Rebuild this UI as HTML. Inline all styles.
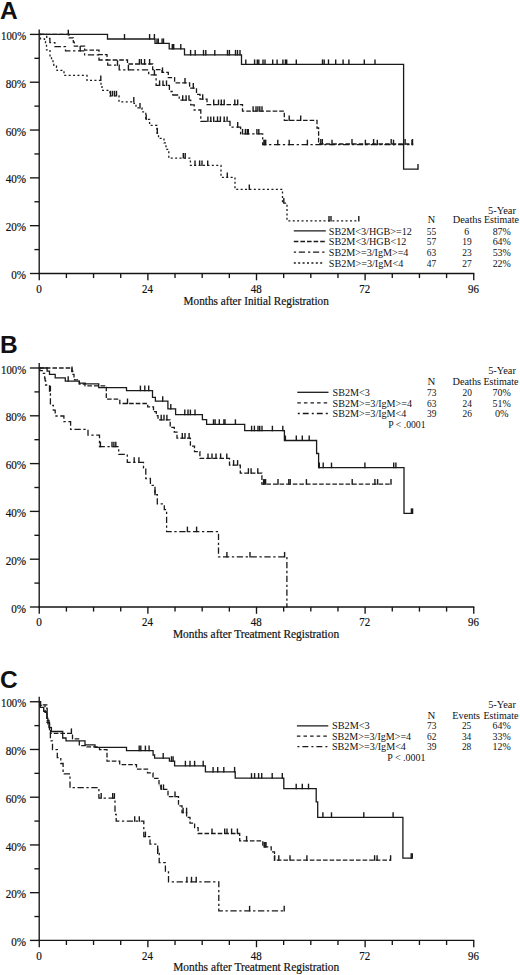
<!DOCTYPE html>
<html><head><meta charset="utf-8"><style>
html,body{margin:0;padding:0;background:#fff;}
svg{display:block;}
text{fill:#111;font-family:'Liberation Serif',serif;stroke:none;}
.hv{stroke:#111;stroke-width:0.2px;}
.ax{stroke:#151515;stroke-width:1.35;fill:none;}
.cv{stroke:#1a1a1a;stroke-width:1.3;fill:none;}
.tk{stroke:#1a1a1a;stroke-width:1.4;}
</style></head><body>
<svg width="520" height="975" viewBox="0 0 520 975">
<rect width="520" height="975" fill="#fff"/>
<text x="0.00" y="18.75" font-size="24.5" text-anchor="start" style="font-family:&quot;Liberation Sans&quot;;font-weight:bold" >A</text>
<line x1="39.2" y1="29.40" x2="39.2" y2="274.10" class="ax"/>
<line x1="38.6" y1="273.50" x2="474.35" y2="273.50" class="ax"/>
<line x1="29.90" y1="273.50" x2="39.2" y2="273.50" class="ax"/>
<text class="hv" x="26.10" y="279.10" font-size="12.0" text-anchor="end" textLength="14.80" lengthAdjust="spacingAndGlyphs">0%</text>
<line x1="34.40" y1="249.59" x2="39.2" y2="249.59" class="ax"/>
<line x1="29.90" y1="225.68" x2="39.2" y2="225.68" class="ax"/>
<text class="hv" x="26.10" y="231.28" font-size="12.0" text-anchor="end" textLength="20.40" lengthAdjust="spacingAndGlyphs">20%</text>
<line x1="34.40" y1="201.77" x2="39.2" y2="201.77" class="ax"/>
<line x1="29.90" y1="177.86" x2="39.2" y2="177.86" class="ax"/>
<text class="hv" x="26.10" y="183.46" font-size="12.0" text-anchor="end" textLength="20.40" lengthAdjust="spacingAndGlyphs">40%</text>
<line x1="34.40" y1="153.95" x2="39.2" y2="153.95" class="ax"/>
<line x1="29.90" y1="130.04" x2="39.2" y2="130.04" class="ax"/>
<text class="hv" x="26.10" y="135.64" font-size="12.0" text-anchor="end" textLength="20.40" lengthAdjust="spacingAndGlyphs">60%</text>
<line x1="34.40" y1="106.13" x2="39.2" y2="106.13" class="ax"/>
<line x1="29.90" y1="82.22" x2="39.2" y2="82.22" class="ax"/>
<text class="hv" x="26.10" y="87.82" font-size="12.0" text-anchor="end" textLength="20.40" lengthAdjust="spacingAndGlyphs">80%</text>
<line x1="34.40" y1="58.31" x2="39.2" y2="58.31" class="ax"/>
<line x1="29.90" y1="34.40" x2="39.2" y2="34.40" class="ax"/>
<text class="hv" x="26.10" y="40.00" font-size="12.0" text-anchor="end" textLength="25.00" lengthAdjust="spacingAndGlyphs">100%</text>
<line x1="39.25" y1="273.50" x2="39.25" y2="280.30" class="ax"/>
<text class="hv" x="38.95" y="292.80" font-size="12.0" text-anchor="middle" textLength="5.60" lengthAdjust="spacingAndGlyphs">0</text>
<line x1="66.41" y1="273.50" x2="66.41" y2="278.10" class="ax"/>
<line x1="93.56" y1="273.50" x2="93.56" y2="278.10" class="ax"/>
<line x1="120.72" y1="273.50" x2="120.72" y2="278.10" class="ax"/>
<line x1="147.88" y1="273.50" x2="147.88" y2="280.30" class="ax"/>
<text class="hv" x="147.57" y="292.80" font-size="12.0" text-anchor="middle" textLength="10.90" lengthAdjust="spacingAndGlyphs">24</text>
<line x1="175.03" y1="273.50" x2="175.03" y2="278.10" class="ax"/>
<line x1="202.19" y1="273.50" x2="202.19" y2="278.10" class="ax"/>
<line x1="229.34" y1="273.50" x2="229.34" y2="278.10" class="ax"/>
<line x1="256.50" y1="273.50" x2="256.50" y2="280.30" class="ax"/>
<text class="hv" x="256.20" y="292.80" font-size="12.0" text-anchor="middle" textLength="10.90" lengthAdjust="spacingAndGlyphs">48</text>
<line x1="283.66" y1="273.50" x2="283.66" y2="278.10" class="ax"/>
<line x1="310.81" y1="273.50" x2="310.81" y2="278.10" class="ax"/>
<line x1="337.97" y1="273.50" x2="337.97" y2="278.10" class="ax"/>
<line x1="365.12" y1="273.50" x2="365.12" y2="280.30" class="ax"/>
<text class="hv" x="364.82" y="292.80" font-size="12.0" text-anchor="middle" textLength="10.90" lengthAdjust="spacingAndGlyphs">72</text>
<line x1="392.28" y1="273.50" x2="392.28" y2="278.10" class="ax"/>
<line x1="419.44" y1="273.50" x2="419.44" y2="278.10" class="ax"/>
<line x1="446.59" y1="273.50" x2="446.59" y2="278.10" class="ax"/>
<line x1="473.75" y1="273.50" x2="473.75" y2="280.30" class="ax"/>
<text class="hv" x="473.45" y="292.80" font-size="12.0" text-anchor="middle" textLength="10.90" lengthAdjust="spacingAndGlyphs">96</text>
<text class="hv" x="183.55" y="305.40" font-size="12.2" textLength="145.30" lengthAdjust="spacingAndGlyphs">Months after Initial Registration</text>
<path d="M39.25,34.40H40.50V38.90H44.50V41.40H45.50V44.40H46.50V49.90H50.00V56.90H51.50V59.40H53.00V62.40H53.80V65.40H56.50V67.40H57.00V70.40H64.00V75.40H87.00V80.40H101.00V85.90H102.00V90.40H110.00V95.80H119.00V101.90H134.00V103.40H136.00V107.90H142.00V111.90H145.80V119.40H149.60V125.40H157.00V133.10H158.50V138.40H164.00V142.90H166.00V149.40H168.80V158.10H190.40V165.40H221.00V177.40H235.00V189.40H282.50V203.10H287.00V220.90H358.80" class="cv" stroke-dasharray="2 2.4" stroke="#2a2a2a"/>
<line x1="100.80" y1="81.00" x2="100.80" y2="75.40" class="tk"/>
<line x1="110.50" y1="96.40" x2="110.50" y2="90.80" class="tk"/>
<line x1="112.50" y1="96.40" x2="112.50" y2="90.80" class="tk"/>
<line x1="114.50" y1="96.40" x2="114.50" y2="90.80" class="tk"/>
<line x1="116.50" y1="96.40" x2="116.50" y2="90.80" class="tk"/>
<line x1="133.80" y1="102.50" x2="133.80" y2="96.90" class="tk"/>
<line x1="140.00" y1="108.50" x2="140.00" y2="102.90" class="tk"/>
<line x1="146.20" y1="120.00" x2="146.20" y2="114.40" class="tk"/>
<line x1="157.30" y1="133.70" x2="157.30" y2="128.10" class="tk"/>
<line x1="183.30" y1="158.50" x2="183.30" y2="152.90" class="tk"/>
<line x1="185.20" y1="158.50" x2="185.20" y2="152.90" class="tk"/>
<line x1="195.00" y1="166.00" x2="195.00" y2="160.40" class="tk"/>
<line x1="199.60" y1="166.00" x2="199.60" y2="160.40" class="tk"/>
<line x1="202.00" y1="166.00" x2="202.00" y2="160.40" class="tk"/>
<line x1="207.70" y1="166.00" x2="207.70" y2="160.40" class="tk"/>
<line x1="227.30" y1="178.00" x2="227.30" y2="172.40" class="tk"/>
<line x1="249.30" y1="190.00" x2="249.30" y2="184.40" class="tk"/>
<line x1="283.80" y1="203.70" x2="283.80" y2="198.10" class="tk"/>
<line x1="329.00" y1="221.50" x2="329.00" y2="215.90" class="tk"/>
<line x1="331.00" y1="221.50" x2="331.00" y2="215.90" class="tk"/>
<line x1="358.80" y1="221.50" x2="358.80" y2="215.90" class="tk"/>
<path d="M39.25,34.40H46.75V38.50H49.90V42.65H54.90V46.65H65.50V50.90H84.60V54.80H99.00V60.00H107.70V65.20H119.20V69.80H148.70V74.80H156.10V85.40H169.40V91.50H172.90V95.00H179.20V100.20H190.70V104.80H194.20V110.00H200.80V121.40H230.00V127.10H240.60V133.90H262.70V144.70H413.20" class="cv" stroke-dasharray="6.3 2.6 2.3 2.6"/>
<line x1="80.20" y1="51.50" x2="80.20" y2="45.90" class="tk"/>
<line x1="117.50" y1="65.80" x2="117.50" y2="60.20" class="tk"/>
<line x1="128.40" y1="70.40" x2="128.40" y2="64.80" class="tk"/>
<line x1="154.40" y1="75.40" x2="154.40" y2="69.80" class="tk"/>
<line x1="159.60" y1="86.00" x2="159.60" y2="80.40" class="tk"/>
<line x1="163.00" y1="86.00" x2="163.00" y2="80.40" class="tk"/>
<line x1="166.50" y1="86.00" x2="166.50" y2="80.40" class="tk"/>
<line x1="182.70" y1="100.80" x2="182.70" y2="95.20" class="tk"/>
<line x1="186.10" y1="100.80" x2="186.10" y2="95.20" class="tk"/>
<line x1="189.00" y1="100.80" x2="189.00" y2="95.20" class="tk"/>
<line x1="207.90" y1="122.00" x2="207.90" y2="116.40" class="tk"/>
<line x1="210.80" y1="122.00" x2="210.80" y2="116.40" class="tk"/>
<line x1="213.70" y1="122.00" x2="213.70" y2="116.40" class="tk"/>
<line x1="217.50" y1="122.00" x2="217.50" y2="116.40" class="tk"/>
<line x1="220.40" y1="122.00" x2="220.40" y2="116.40" class="tk"/>
<line x1="224.20" y1="122.00" x2="224.20" y2="116.40" class="tk"/>
<line x1="227.10" y1="122.00" x2="227.10" y2="116.40" class="tk"/>
<line x1="237.70" y1="127.70" x2="237.70" y2="122.10" class="tk"/>
<line x1="242.50" y1="134.50" x2="242.50" y2="128.90" class="tk"/>
<line x1="245.40" y1="134.50" x2="245.40" y2="128.90" class="tk"/>
<line x1="247.30" y1="134.50" x2="247.30" y2="128.90" class="tk"/>
<line x1="248.30" y1="134.50" x2="248.30" y2="128.90" class="tk"/>
<line x1="256.90" y1="134.50" x2="256.90" y2="128.90" class="tk"/>
<line x1="258.80" y1="134.50" x2="258.80" y2="128.90" class="tk"/>
<line x1="263.90" y1="145.30" x2="263.90" y2="139.70" class="tk"/>
<line x1="264.80" y1="145.30" x2="264.80" y2="139.70" class="tk"/>
<line x1="265.70" y1="145.30" x2="265.70" y2="139.70" class="tk"/>
<line x1="277.80" y1="145.30" x2="277.80" y2="139.70" class="tk"/>
<line x1="289.20" y1="145.30" x2="289.20" y2="139.70" class="tk"/>
<line x1="307.40" y1="145.30" x2="307.40" y2="139.70" class="tk"/>
<line x1="332.00" y1="145.30" x2="332.00" y2="139.70" class="tk"/>
<line x1="365.40" y1="145.30" x2="365.40" y2="139.70" class="tk"/>
<line x1="377.30" y1="145.30" x2="377.30" y2="139.70" class="tk"/>
<line x1="393.50" y1="145.30" x2="393.50" y2="139.70" class="tk"/>
<line x1="412.00" y1="145.30" x2="412.00" y2="139.70" class="tk"/>
<path d="M39.25,34.40H69.20V37.90H73.30V42.10H74.30V46.20H84.60V50.20H99.00V54.60H107.00V60.00H127.50V64.00H152.70V69.60H162.00V72.40H168.30V77.70H174.60V82.90H189.60V88.10H196.50V94.40H200.00V99.20H207.00V104.60H242.50V111.20H284.30V120.40H317.00V128.00H318.60V144.00H413.20" class="cv" stroke-dasharray="4.6 2"/>
<line x1="139.40" y1="64.60" x2="139.40" y2="59.00" class="tk"/>
<line x1="141.30" y1="64.60" x2="141.30" y2="59.00" class="tk"/>
<line x1="144.60" y1="64.60" x2="144.60" y2="59.00" class="tk"/>
<line x1="149.60" y1="64.60" x2="149.60" y2="59.00" class="tk"/>
<line x1="162.50" y1="73.00" x2="162.50" y2="67.40" class="tk"/>
<line x1="185.00" y1="83.50" x2="185.00" y2="77.90" class="tk"/>
<line x1="193.30" y1="88.70" x2="193.30" y2="83.10" class="tk"/>
<line x1="202.70" y1="99.80" x2="202.70" y2="94.20" class="tk"/>
<line x1="213.70" y1="105.20" x2="213.70" y2="99.60" class="tk"/>
<line x1="218.50" y1="105.20" x2="218.50" y2="99.60" class="tk"/>
<line x1="221.30" y1="105.20" x2="221.30" y2="99.60" class="tk"/>
<line x1="224.20" y1="105.20" x2="224.20" y2="99.60" class="tk"/>
<line x1="234.80" y1="105.20" x2="234.80" y2="99.60" class="tk"/>
<line x1="237.70" y1="105.20" x2="237.70" y2="99.60" class="tk"/>
<line x1="253.10" y1="111.80" x2="253.10" y2="106.20" class="tk"/>
<line x1="256.00" y1="111.80" x2="256.00" y2="106.20" class="tk"/>
<line x1="257.90" y1="111.80" x2="257.90" y2="106.20" class="tk"/>
<line x1="259.80" y1="111.80" x2="259.80" y2="106.20" class="tk"/>
<line x1="262.00" y1="111.80" x2="262.00" y2="106.20" class="tk"/>
<line x1="289.20" y1="121.00" x2="289.20" y2="115.40" class="tk"/>
<line x1="300.70" y1="121.00" x2="300.70" y2="115.40" class="tk"/>
<line x1="320.80" y1="144.60" x2="320.80" y2="139.00" class="tk"/>
<line x1="322.30" y1="144.60" x2="322.30" y2="139.00" class="tk"/>
<line x1="352.00" y1="144.60" x2="352.00" y2="139.00" class="tk"/>
<line x1="373.60" y1="144.60" x2="373.60" y2="139.00" class="tk"/>
<line x1="391.20" y1="144.60" x2="391.20" y2="139.00" class="tk"/>
<line x1="405.10" y1="144.60" x2="405.10" y2="139.00" class="tk"/>
<line x1="412.50" y1="144.60" x2="412.50" y2="139.00" class="tk"/>
<path d="M39.25,34.40H107.50V39.00H155.00V43.40H169.20V48.90H184.50V54.90H241.50V64.40H403.60V169.10H418.00" class="cv" />
<line x1="68.30" y1="35.40" x2="68.30" y2="29.80" class="tk"/>
<line x1="124.50" y1="39.60" x2="124.50" y2="34.00" class="tk"/>
<line x1="149.60" y1="39.60" x2="149.60" y2="34.00" class="tk"/>
<line x1="154.40" y1="39.60" x2="154.40" y2="34.00" class="tk"/>
<line x1="157.00" y1="44.00" x2="157.00" y2="38.40" class="tk"/>
<line x1="158.30" y1="44.00" x2="158.30" y2="38.40" class="tk"/>
<line x1="162.10" y1="44.00" x2="162.10" y2="38.40" class="tk"/>
<line x1="163.50" y1="44.00" x2="163.50" y2="38.40" class="tk"/>
<line x1="172.30" y1="49.50" x2="172.30" y2="43.90" class="tk"/>
<line x1="173.70" y1="49.50" x2="173.70" y2="43.90" class="tk"/>
<line x1="180.80" y1="49.50" x2="180.80" y2="43.90" class="tk"/>
<line x1="190.60" y1="55.50" x2="190.60" y2="49.90" class="tk"/>
<line x1="195.20" y1="55.50" x2="195.20" y2="49.90" class="tk"/>
<line x1="203.50" y1="55.50" x2="203.50" y2="49.90" class="tk"/>
<line x1="205.80" y1="55.50" x2="205.80" y2="49.90" class="tk"/>
<line x1="214.80" y1="55.50" x2="214.80" y2="49.90" class="tk"/>
<line x1="227.50" y1="55.50" x2="227.50" y2="49.90" class="tk"/>
<line x1="229.40" y1="55.50" x2="229.40" y2="49.90" class="tk"/>
<line x1="235.50" y1="55.50" x2="235.50" y2="49.90" class="tk"/>
<line x1="237.50" y1="55.50" x2="237.50" y2="49.90" class="tk"/>
<line x1="240.00" y1="55.50" x2="240.00" y2="49.90" class="tk"/>
<line x1="245.80" y1="65.00" x2="245.80" y2="59.40" class="tk"/>
<line x1="254.60" y1="65.00" x2="254.60" y2="59.40" class="tk"/>
<line x1="257.30" y1="65.00" x2="257.30" y2="59.40" class="tk"/>
<line x1="258.80" y1="65.00" x2="258.80" y2="59.40" class="tk"/>
<line x1="263.00" y1="65.00" x2="263.00" y2="59.40" class="tk"/>
<line x1="265.00" y1="65.00" x2="265.00" y2="59.40" class="tk"/>
<line x1="272.70" y1="65.00" x2="272.70" y2="59.40" class="tk"/>
<line x1="277.10" y1="65.00" x2="277.10" y2="59.40" class="tk"/>
<line x1="282.90" y1="65.00" x2="282.90" y2="59.40" class="tk"/>
<line x1="285.40" y1="65.00" x2="285.40" y2="59.40" class="tk"/>
<line x1="286.70" y1="65.00" x2="286.70" y2="59.40" class="tk"/>
<line x1="296.30" y1="65.00" x2="296.30" y2="59.40" class="tk"/>
<line x1="322.50" y1="65.00" x2="322.50" y2="59.40" class="tk"/>
<line x1="324.20" y1="65.00" x2="324.20" y2="59.40" class="tk"/>
<line x1="328.50" y1="65.00" x2="328.50" y2="59.40" class="tk"/>
<line x1="335.70" y1="65.00" x2="335.70" y2="59.40" class="tk"/>
<line x1="343.10" y1="65.00" x2="343.10" y2="59.40" class="tk"/>
<line x1="348.90" y1="65.00" x2="348.90" y2="59.40" class="tk"/>
<line x1="364.30" y1="65.00" x2="364.30" y2="59.40" class="tk"/>
<line x1="375.00" y1="65.00" x2="375.00" y2="59.40" class="tk"/>
<line x1="418.00" y1="169.70" x2="418.00" y2="164.10" class="tk"/>
<text x="487.95" y="213.50" font-size="10.9" textLength="28.00" lengthAdjust="spacingAndGlyphs">5-Year</text>
<text x="427.85" y="223.40" font-size="10.9" textLength="7.40" lengthAdjust="spacingAndGlyphs">N</text>
<text x="452.75" y="223.40" font-size="10.9" textLength="28.80" lengthAdjust="spacingAndGlyphs">Deaths</text>
<text x="484.05" y="223.40" font-size="10.9" textLength="34.80" lengthAdjust="spacingAndGlyphs">Estimate</text>
<line x1="293.8" y1="230.90" x2="325.8" y2="230.90" class="cv" />
<text x="328.85" y="234.60" font-size="10.9" textLength="83.00" lengthAdjust="spacingAndGlyphs">SB2M&lt;3/HGB&gt;=12</text>
<text x="431.50" y="234.60" font-size="10.9" text-anchor="middle" textLength="9.40" lengthAdjust="spacingAndGlyphs">55</text>
<text x="466.80" y="234.60" font-size="10.9" text-anchor="middle" textLength="4.90" lengthAdjust="spacingAndGlyphs">6</text>
<text x="501.75" y="234.60" font-size="10.9" text-anchor="middle" textLength="18.20" lengthAdjust="spacingAndGlyphs">87%</text>
<line x1="293.8" y1="241.50" x2="325.8" y2="241.50" class="cv" stroke-dasharray="4.6 2"/>
<text x="328.85" y="245.40" font-size="10.9" textLength="77.50" lengthAdjust="spacingAndGlyphs">SB2M&lt;3/HGB&lt;12</text>
<text x="431.50" y="245.40" font-size="10.9" text-anchor="middle" textLength="9.40" lengthAdjust="spacingAndGlyphs">57</text>
<text x="467.00" y="245.40" font-size="10.9" text-anchor="middle" textLength="9.40" lengthAdjust="spacingAndGlyphs">19</text>
<text x="501.75" y="245.40" font-size="10.9" text-anchor="middle" textLength="18.20" lengthAdjust="spacingAndGlyphs">64%</text>
<line x1="293.8" y1="252.10" x2="325.8" y2="252.10" class="cv" stroke-dasharray="6.2 3 2.3 2.7" stroke-dashoffset="9.2"/>
<text x="328.85" y="256.00" font-size="10.9" textLength="79.60" lengthAdjust="spacingAndGlyphs">SB2M&gt;=3/IgM&gt;=4</text>
<text x="431.50" y="256.00" font-size="10.9" text-anchor="middle" textLength="9.40" lengthAdjust="spacingAndGlyphs">63</text>
<text x="467.00" y="256.00" font-size="10.9" text-anchor="middle" textLength="9.40" lengthAdjust="spacingAndGlyphs">23</text>
<text x="501.75" y="256.00" font-size="10.9" text-anchor="middle" textLength="18.20" lengthAdjust="spacingAndGlyphs">53%</text>
<line x1="293.8" y1="263.00" x2="323.6" y2="263.00" class="cv" stroke-dasharray="2 2.4" stroke="#2a2a2a"/>
<text x="328.85" y="266.60" font-size="10.9" textLength="74.40" lengthAdjust="spacingAndGlyphs">SB2M&gt;=3/IgM&lt;4</text>
<text x="431.50" y="266.60" font-size="10.9" text-anchor="middle" textLength="9.40" lengthAdjust="spacingAndGlyphs">47</text>
<text x="467.00" y="266.60" font-size="10.9" text-anchor="middle" textLength="9.40" lengthAdjust="spacingAndGlyphs">27</text>
<text x="501.75" y="266.60" font-size="10.9" text-anchor="middle" textLength="18.20" lengthAdjust="spacingAndGlyphs">22%</text>
<text x="0.00" y="352.80" font-size="24.5" text-anchor="start" style="font-family:&quot;Liberation Sans&quot;;font-weight:bold" >B</text>
<line x1="39.2" y1="363.00" x2="39.2" y2="607.60" class="ax"/>
<line x1="38.6" y1="607.00" x2="474.35" y2="607.00" class="ax"/>
<line x1="29.90" y1="607.00" x2="39.2" y2="607.00" class="ax"/>
<text class="hv" x="26.10" y="612.60" font-size="12.0" text-anchor="end" textLength="14.80" lengthAdjust="spacingAndGlyphs">0%</text>
<line x1="34.40" y1="583.10" x2="39.2" y2="583.10" class="ax"/>
<line x1="29.90" y1="559.20" x2="39.2" y2="559.20" class="ax"/>
<text class="hv" x="26.10" y="564.80" font-size="12.0" text-anchor="end" textLength="20.40" lengthAdjust="spacingAndGlyphs">20%</text>
<line x1="34.40" y1="535.30" x2="39.2" y2="535.30" class="ax"/>
<line x1="29.90" y1="511.40" x2="39.2" y2="511.40" class="ax"/>
<text class="hv" x="26.10" y="517.00" font-size="12.0" text-anchor="end" textLength="20.40" lengthAdjust="spacingAndGlyphs">40%</text>
<line x1="34.40" y1="487.50" x2="39.2" y2="487.50" class="ax"/>
<line x1="29.90" y1="463.60" x2="39.2" y2="463.60" class="ax"/>
<text class="hv" x="26.10" y="469.20" font-size="12.0" text-anchor="end" textLength="20.40" lengthAdjust="spacingAndGlyphs">60%</text>
<line x1="34.40" y1="439.70" x2="39.2" y2="439.70" class="ax"/>
<line x1="29.90" y1="415.80" x2="39.2" y2="415.80" class="ax"/>
<text class="hv" x="26.10" y="421.40" font-size="12.0" text-anchor="end" textLength="20.40" lengthAdjust="spacingAndGlyphs">80%</text>
<line x1="34.40" y1="391.90" x2="39.2" y2="391.90" class="ax"/>
<line x1="29.90" y1="368.00" x2="39.2" y2="368.00" class="ax"/>
<text class="hv" x="26.10" y="373.60" font-size="12.0" text-anchor="end" textLength="25.00" lengthAdjust="spacingAndGlyphs">100%</text>
<line x1="39.25" y1="607.00" x2="39.25" y2="613.80" class="ax"/>
<text class="hv" x="38.95" y="626.30" font-size="12.0" text-anchor="middle" textLength="5.60" lengthAdjust="spacingAndGlyphs">0</text>
<line x1="66.41" y1="607.00" x2="66.41" y2="611.60" class="ax"/>
<line x1="93.56" y1="607.00" x2="93.56" y2="611.60" class="ax"/>
<line x1="120.72" y1="607.00" x2="120.72" y2="611.60" class="ax"/>
<line x1="147.88" y1="607.00" x2="147.88" y2="613.80" class="ax"/>
<text class="hv" x="147.57" y="626.30" font-size="12.0" text-anchor="middle" textLength="10.90" lengthAdjust="spacingAndGlyphs">24</text>
<line x1="175.03" y1="607.00" x2="175.03" y2="611.60" class="ax"/>
<line x1="202.19" y1="607.00" x2="202.19" y2="611.60" class="ax"/>
<line x1="229.34" y1="607.00" x2="229.34" y2="611.60" class="ax"/>
<line x1="256.50" y1="607.00" x2="256.50" y2="613.80" class="ax"/>
<text class="hv" x="256.20" y="626.30" font-size="12.0" text-anchor="middle" textLength="10.90" lengthAdjust="spacingAndGlyphs">48</text>
<line x1="283.66" y1="607.00" x2="283.66" y2="611.60" class="ax"/>
<line x1="310.81" y1="607.00" x2="310.81" y2="611.60" class="ax"/>
<line x1="337.97" y1="607.00" x2="337.97" y2="611.60" class="ax"/>
<line x1="365.12" y1="607.00" x2="365.12" y2="613.80" class="ax"/>
<text class="hv" x="364.82" y="626.30" font-size="12.0" text-anchor="middle" textLength="10.90" lengthAdjust="spacingAndGlyphs">72</text>
<line x1="392.28" y1="607.00" x2="392.28" y2="611.60" class="ax"/>
<line x1="419.44" y1="607.00" x2="419.44" y2="611.60" class="ax"/>
<line x1="446.59" y1="607.00" x2="446.59" y2="611.60" class="ax"/>
<line x1="473.75" y1="607.00" x2="473.75" y2="613.80" class="ax"/>
<text class="hv" x="473.45" y="626.30" font-size="12.0" text-anchor="middle" textLength="10.90" lengthAdjust="spacingAndGlyphs">96</text>
<text class="hv" x="172.95" y="638.30" font-size="12.2" textLength="166.20" lengthAdjust="spacingAndGlyphs">Months after Treatment Registration</text>
<path d="M39.25,368.00H39.80V370.60H42.25V373.40H44.70V378.30H45.10V380.70H45.60V385.00H49.50V391.90H50.40V405.40H53.30V410.20H55.20V416.00H63.90V421.70H70.60V429.40H88.00V435.20H99.50V446.70H118.70V454.30H127.30V462.30H143.50V468.10H145.80V478.50H150.40V485.40H155.00V494.70H157.30V503.90H164.30V509.70H166.60V531.60H218.50V556.90H286.90V607.40" class="cv" stroke-dasharray="6.3 2.6 2.3 2.6"/>
<line x1="50.40" y1="391.40" x2="50.40" y2="385.80" class="tk"/>
<line x1="100.40" y1="447.30" x2="100.40" y2="441.70" class="tk"/>
<line x1="112.00" y1="447.30" x2="112.00" y2="441.70" class="tk"/>
<line x1="113.90" y1="447.30" x2="113.90" y2="441.70" class="tk"/>
<line x1="115.80" y1="447.30" x2="115.80" y2="441.70" class="tk"/>
<line x1="134.20" y1="462.90" x2="134.20" y2="457.30" class="tk"/>
<line x1="138.90" y1="462.90" x2="138.90" y2="457.30" class="tk"/>
<line x1="155.00" y1="495.30" x2="155.00" y2="489.70" class="tk"/>
<line x1="187.40" y1="532.20" x2="187.40" y2="526.60" class="tk"/>
<line x1="196.60" y1="532.20" x2="196.60" y2="526.60" class="tk"/>
<line x1="226.90" y1="557.50" x2="226.90" y2="551.90" class="tk"/>
<line x1="250.00" y1="557.50" x2="250.00" y2="551.90" class="tk"/>
<line x1="284.60" y1="557.50" x2="284.60" y2="551.90" class="tk"/>
<path d="M39.25,368.00H72.00V371.50H73.00V374.40H74.00V377.80H74.50V379.90H79.30V384.00H85.00V385.90H106.30V399.20H119.80V403.50H147.70V406.90H153.50V411.70H156.30V415.60H158.00V419.80H170.20V427.40H174.30V432.20H177.00V438.10H190.40V446.20H194.50V451.60H199.90V458.40H229.50V465.10H240.30V473.20H261.90V484.10H391.00" class="cv" stroke-dasharray="4.6 2"/>
<line x1="72.00" y1="372.10" x2="72.00" y2="366.50" class="tk"/>
<line x1="127.50" y1="404.10" x2="127.50" y2="398.50" class="tk"/>
<line x1="161.20" y1="420.40" x2="161.20" y2="414.80" class="tk"/>
<line x1="164.00" y1="420.40" x2="164.00" y2="414.80" class="tk"/>
<line x1="166.90" y1="420.40" x2="166.90" y2="414.80" class="tk"/>
<line x1="182.30" y1="438.70" x2="182.30" y2="433.10" class="tk"/>
<line x1="185.00" y1="438.70" x2="185.00" y2="433.10" class="tk"/>
<line x1="189.10" y1="438.70" x2="189.10" y2="433.10" class="tk"/>
<line x1="208.00" y1="459.00" x2="208.00" y2="453.40" class="tk"/>
<line x1="212.00" y1="459.00" x2="212.00" y2="453.40" class="tk"/>
<line x1="216.00" y1="459.00" x2="216.00" y2="453.40" class="tk"/>
<line x1="220.60" y1="459.00" x2="220.60" y2="453.40" class="tk"/>
<line x1="226.80" y1="459.00" x2="226.80" y2="453.40" class="tk"/>
<line x1="233.60" y1="465.70" x2="233.60" y2="460.10" class="tk"/>
<line x1="237.60" y1="465.70" x2="237.60" y2="460.10" class="tk"/>
<line x1="248.40" y1="473.80" x2="248.40" y2="468.20" class="tk"/>
<line x1="251.10" y1="473.80" x2="251.10" y2="468.20" class="tk"/>
<line x1="257.80" y1="473.80" x2="257.80" y2="468.20" class="tk"/>
<line x1="263.60" y1="484.70" x2="263.60" y2="479.10" class="tk"/>
<line x1="264.60" y1="484.70" x2="264.60" y2="479.10" class="tk"/>
<line x1="265.60" y1="484.70" x2="265.60" y2="479.10" class="tk"/>
<line x1="278.00" y1="484.70" x2="278.00" y2="479.10" class="tk"/>
<line x1="288.80" y1="484.70" x2="288.80" y2="479.10" class="tk"/>
<line x1="290.20" y1="484.70" x2="290.20" y2="479.10" class="tk"/>
<line x1="306.40" y1="484.70" x2="306.40" y2="479.10" class="tk"/>
<line x1="352.20" y1="484.70" x2="352.20" y2="479.10" class="tk"/>
<line x1="374.90" y1="484.70" x2="374.90" y2="479.10" class="tk"/>
<line x1="377.60" y1="484.70" x2="377.60" y2="479.10" class="tk"/>
<line x1="391.00" y1="484.70" x2="391.00" y2="479.10" class="tk"/>
<path d="M39.25,368.00H47.10V371.10H49.50V374.40H55.20V377.80H65.30V381.15H79.30V383.10H85.20V383.90H98.70V387.70H126.50V390.60H152.50V397.30H155.40V401.20H167.90V408.90H175.60V414.60H202.40V419.70H206.60V424.30H244.70V430.70H284.40V440.50H316.60V453.50H318.60V467.60H404.00V513.40H412.60" class="cv" />
<line x1="68.20" y1="381.75" x2="68.20" y2="376.15" class="tk"/>
<line x1="140.40" y1="391.20" x2="140.40" y2="385.60" class="tk"/>
<line x1="144.80" y1="391.20" x2="144.80" y2="385.60" class="tk"/>
<line x1="148.70" y1="391.20" x2="148.70" y2="385.60" class="tk"/>
<line x1="162.70" y1="401.80" x2="162.70" y2="396.20" class="tk"/>
<line x1="170.80" y1="409.50" x2="170.80" y2="403.90" class="tk"/>
<line x1="184.80" y1="415.20" x2="184.80" y2="409.60" class="tk"/>
<line x1="188.00" y1="415.20" x2="188.00" y2="409.60" class="tk"/>
<line x1="190.40" y1="415.20" x2="190.40" y2="409.60" class="tk"/>
<line x1="195.00" y1="415.20" x2="195.00" y2="409.60" class="tk"/>
<line x1="213.50" y1="424.90" x2="213.50" y2="419.30" class="tk"/>
<line x1="215.10" y1="424.90" x2="215.10" y2="419.30" class="tk"/>
<line x1="219.30" y1="424.90" x2="219.30" y2="419.30" class="tk"/>
<line x1="223.90" y1="424.90" x2="223.90" y2="419.30" class="tk"/>
<line x1="225.00" y1="424.90" x2="225.00" y2="419.30" class="tk"/>
<line x1="235.40" y1="424.90" x2="235.40" y2="419.30" class="tk"/>
<line x1="251.60" y1="431.30" x2="251.60" y2="425.70" class="tk"/>
<line x1="254.40" y1="431.30" x2="254.40" y2="425.70" class="tk"/>
<line x1="258.00" y1="431.30" x2="258.00" y2="425.70" class="tk"/>
<line x1="259.70" y1="431.30" x2="259.70" y2="425.70" class="tk"/>
<line x1="262.00" y1="431.30" x2="262.00" y2="425.70" class="tk"/>
<line x1="272.40" y1="431.30" x2="272.40" y2="425.70" class="tk"/>
<line x1="282.80" y1="431.30" x2="282.80" y2="425.70" class="tk"/>
<line x1="285.40" y1="441.10" x2="285.40" y2="435.50" class="tk"/>
<line x1="296.30" y1="441.10" x2="296.30" y2="435.50" class="tk"/>
<line x1="302.30" y1="441.10" x2="302.30" y2="435.50" class="tk"/>
<line x1="309.20" y1="441.10" x2="309.20" y2="435.50" class="tk"/>
<line x1="319.30" y1="468.20" x2="319.30" y2="462.60" class="tk"/>
<line x1="323.20" y1="468.20" x2="323.20" y2="462.60" class="tk"/>
<line x1="331.50" y1="468.20" x2="331.50" y2="462.60" class="tk"/>
<line x1="364.90" y1="468.20" x2="364.90" y2="462.60" class="tk"/>
<line x1="393.70" y1="468.20" x2="393.70" y2="462.60" class="tk"/>
<line x1="395.90" y1="468.20" x2="395.90" y2="462.60" class="tk"/>
<line x1="411.40" y1="514.00" x2="411.40" y2="508.40" class="tk"/>
<line x1="412.60" y1="514.00" x2="412.60" y2="508.40" class="tk"/>
<text x="488.15" y="374.30" font-size="10.9" textLength="27.70" lengthAdjust="spacingAndGlyphs">5-Year</text>
<text x="427.55" y="385.00" font-size="10.9" textLength="7.80" lengthAdjust="spacingAndGlyphs">N</text>
<text x="452.45" y="385.00" font-size="10.9" textLength="28.70" lengthAdjust="spacingAndGlyphs">Deaths</text>
<text x="483.45" y="385.00" font-size="10.9" textLength="35.10" lengthAdjust="spacingAndGlyphs">Estimate</text>
<line x1="297.3" y1="392.30" x2="328.5" y2="392.30" class="cv" />
<text x="332.55" y="396.00" font-size="10.9" textLength="37.20" lengthAdjust="spacingAndGlyphs">SB2M&lt;3</text>
<text x="431.70" y="396.00" font-size="10.9" text-anchor="middle" textLength="9.40" lengthAdjust="spacingAndGlyphs">73</text>
<text x="467.20" y="396.00" font-size="10.9" text-anchor="middle" textLength="9.40" lengthAdjust="spacingAndGlyphs">20</text>
<text x="501.70" y="396.00" font-size="10.9" text-anchor="middle" textLength="18.20" lengthAdjust="spacingAndGlyphs">70%</text>
<line x1="297.3" y1="402.90" x2="328.5" y2="402.90" class="cv" stroke-dasharray="3.5 3.1"/>
<text x="332.55" y="406.70" font-size="10.9" textLength="79.50" lengthAdjust="spacingAndGlyphs">SB2M&gt;=3/IgM&gt;=4</text>
<text x="431.70" y="406.70" font-size="10.9" text-anchor="middle" textLength="9.40" lengthAdjust="spacingAndGlyphs">63</text>
<text x="467.20" y="406.70" font-size="10.9" text-anchor="middle" textLength="9.40" lengthAdjust="spacingAndGlyphs">24</text>
<text x="501.70" y="406.70" font-size="10.9" text-anchor="middle" textLength="18.20" lengthAdjust="spacingAndGlyphs">51%</text>
<line x1="297.3" y1="413.50" x2="328.5" y2="413.50" class="cv" stroke-dasharray="5.9 3.1 2 3" stroke-dashoffset="8.5"/>
<text x="332.55" y="417.20" font-size="10.9" textLength="73.80" lengthAdjust="spacingAndGlyphs">SB2M&gt;=3/IgM&lt;4</text>
<text x="431.70" y="417.20" font-size="10.9" text-anchor="middle" textLength="9.40" lengthAdjust="spacingAndGlyphs">39</text>
<text x="467.20" y="417.20" font-size="10.9" text-anchor="middle" textLength="9.40" lengthAdjust="spacingAndGlyphs">26</text>
<text x="501.70" y="417.20" font-size="10.9" text-anchor="middle" textLength="13.60" lengthAdjust="spacingAndGlyphs">0%</text>
<text x="388.35" y="427.70" font-size="10.9" textLength="37.20" lengthAdjust="spacingAndGlyphs">P &lt; .0001</text>
<text x="0.00" y="687.60" font-size="24.5" text-anchor="start" style="font-family:&quot;Liberation Sans&quot;;font-weight:bold" >C</text>
<line x1="39.2" y1="696.75" x2="39.2" y2="941.00" class="ax"/>
<line x1="38.6" y1="940.40" x2="474.35" y2="940.40" class="ax"/>
<line x1="29.90" y1="940.40" x2="39.2" y2="940.40" class="ax"/>
<text class="hv" x="26.10" y="946.00" font-size="12.0" text-anchor="end" textLength="14.80" lengthAdjust="spacingAndGlyphs">0%</text>
<line x1="34.40" y1="916.53" x2="39.2" y2="916.53" class="ax"/>
<line x1="29.90" y1="892.67" x2="39.2" y2="892.67" class="ax"/>
<text class="hv" x="26.10" y="898.27" font-size="12.0" text-anchor="end" textLength="20.40" lengthAdjust="spacingAndGlyphs">20%</text>
<line x1="34.40" y1="868.80" x2="39.2" y2="868.80" class="ax"/>
<line x1="29.90" y1="844.94" x2="39.2" y2="844.94" class="ax"/>
<text class="hv" x="26.10" y="850.54" font-size="12.0" text-anchor="end" textLength="20.40" lengthAdjust="spacingAndGlyphs">40%</text>
<line x1="34.40" y1="821.08" x2="39.2" y2="821.08" class="ax"/>
<line x1="29.90" y1="797.21" x2="39.2" y2="797.21" class="ax"/>
<text class="hv" x="26.10" y="802.81" font-size="12.0" text-anchor="end" textLength="20.40" lengthAdjust="spacingAndGlyphs">60%</text>
<line x1="34.40" y1="773.35" x2="39.2" y2="773.35" class="ax"/>
<line x1="29.90" y1="749.48" x2="39.2" y2="749.48" class="ax"/>
<text class="hv" x="26.10" y="755.08" font-size="12.0" text-anchor="end" textLength="20.40" lengthAdjust="spacingAndGlyphs">80%</text>
<line x1="34.40" y1="725.62" x2="39.2" y2="725.62" class="ax"/>
<line x1="29.90" y1="701.75" x2="39.2" y2="701.75" class="ax"/>
<text class="hv" x="26.10" y="707.35" font-size="12.0" text-anchor="end" textLength="25.00" lengthAdjust="spacingAndGlyphs">100%</text>
<line x1="39.25" y1="940.40" x2="39.25" y2="947.20" class="ax"/>
<text class="hv" x="38.95" y="959.70" font-size="12.0" text-anchor="middle" textLength="5.60" lengthAdjust="spacingAndGlyphs">0</text>
<line x1="66.41" y1="940.40" x2="66.41" y2="945.00" class="ax"/>
<line x1="93.56" y1="940.40" x2="93.56" y2="945.00" class="ax"/>
<line x1="120.72" y1="940.40" x2="120.72" y2="945.00" class="ax"/>
<line x1="147.88" y1="940.40" x2="147.88" y2="947.20" class="ax"/>
<text class="hv" x="147.57" y="959.70" font-size="12.0" text-anchor="middle" textLength="10.90" lengthAdjust="spacingAndGlyphs">24</text>
<line x1="175.03" y1="940.40" x2="175.03" y2="945.00" class="ax"/>
<line x1="202.19" y1="940.40" x2="202.19" y2="945.00" class="ax"/>
<line x1="229.34" y1="940.40" x2="229.34" y2="945.00" class="ax"/>
<line x1="256.50" y1="940.40" x2="256.50" y2="947.20" class="ax"/>
<text class="hv" x="256.20" y="959.70" font-size="12.0" text-anchor="middle" textLength="10.90" lengthAdjust="spacingAndGlyphs">48</text>
<line x1="283.66" y1="940.40" x2="283.66" y2="945.00" class="ax"/>
<line x1="310.81" y1="940.40" x2="310.81" y2="945.00" class="ax"/>
<line x1="337.97" y1="940.40" x2="337.97" y2="945.00" class="ax"/>
<line x1="365.12" y1="940.40" x2="365.12" y2="947.20" class="ax"/>
<text class="hv" x="364.82" y="959.70" font-size="12.0" text-anchor="middle" textLength="10.90" lengthAdjust="spacingAndGlyphs">72</text>
<line x1="392.28" y1="940.40" x2="392.28" y2="945.00" class="ax"/>
<line x1="419.44" y1="940.40" x2="419.44" y2="945.00" class="ax"/>
<line x1="446.59" y1="940.40" x2="446.59" y2="945.00" class="ax"/>
<line x1="473.75" y1="940.40" x2="473.75" y2="947.20" class="ax"/>
<text class="hv" x="473.45" y="959.70" font-size="12.0" text-anchor="middle" textLength="10.90" lengthAdjust="spacingAndGlyphs">96</text>
<text class="hv" x="173.25" y="971.10" font-size="12.2" textLength="166.00" lengthAdjust="spacingAndGlyphs">Months after Treatment Registration</text>
<path d="M39.25,701.75H40.00V705.40H45.00V712.40H47.00V722.40H49.50V730.40H50.40V740.80H52.50V749.60H57.30V757.70H60.80V763.50H63.10V773.90H70.00V787.70H98.90V798.10H115.00V814.30H116.20V821.20H143.80V836.60H150.00V844.20H157.70V853.40H159.20V862.70H165.40V871.90H168.50V881.80H218.80V910.80H284.20" class="cv" stroke-dasharray="6.3 2.6 2.3 2.6"/>
<line x1="101.20" y1="798.70" x2="101.20" y2="793.10" class="tk"/>
<line x1="112.70" y1="798.70" x2="112.70" y2="793.10" class="tk"/>
<line x1="114.40" y1="798.70" x2="114.40" y2="793.10" class="tk"/>
<line x1="134.70" y1="821.80" x2="134.70" y2="816.20" class="tk"/>
<line x1="139.30" y1="821.80" x2="139.30" y2="816.20" class="tk"/>
<line x1="145.40" y1="837.20" x2="145.40" y2="831.60" class="tk"/>
<line x1="157.70" y1="854.00" x2="157.70" y2="848.40" class="tk"/>
<line x1="186.90" y1="882.40" x2="186.90" y2="876.80" class="tk"/>
<line x1="191.50" y1="882.40" x2="191.50" y2="876.80" class="tk"/>
<line x1="196.20" y1="882.40" x2="196.20" y2="876.80" class="tk"/>
<line x1="249.60" y1="911.40" x2="249.60" y2="905.80" class="tk"/>
<line x1="284.20" y1="911.40" x2="284.20" y2="905.80" class="tk"/>
<path d="M39.25,701.75H40.60V704.90H46.80V708.40H47.20V720.40H49.00V727.40H50.60V733.40H72.50V738.90H79.30V745.60H87.00V746.90H99.50V749.60H107.00V761.20H119.70V764.60H136.50V769.10H147.50V772.90H153.00V778.40H159.00V785.90H161.00V789.40H168.00V796.60H178.50V805.80H182.00V812.70H186.60V817.40H190.00V823.10H194.60V827.70H198.10V833.50H239.70V840.90H262.80V846.90H271.20V851.80H274.50V860.20H391.00" class="cv" stroke-dasharray="4.6 2"/>
<line x1="71.40" y1="734.00" x2="71.40" y2="728.40" class="tk"/>
<line x1="161.20" y1="790.00" x2="161.20" y2="784.40" class="tk"/>
<line x1="163.50" y1="790.00" x2="163.50" y2="784.40" class="tk"/>
<line x1="175.00" y1="797.20" x2="175.00" y2="791.60" class="tk"/>
<line x1="183.10" y1="813.30" x2="183.10" y2="807.70" class="tk"/>
<line x1="186.60" y1="813.30" x2="186.60" y2="807.70" class="tk"/>
<line x1="212.00" y1="834.10" x2="212.00" y2="828.50" class="tk"/>
<line x1="224.70" y1="834.10" x2="224.70" y2="828.50" class="tk"/>
<line x1="227.00" y1="834.10" x2="227.00" y2="828.50" class="tk"/>
<line x1="231.60" y1="834.10" x2="231.60" y2="828.50" class="tk"/>
<line x1="237.40" y1="834.10" x2="237.40" y2="828.50" class="tk"/>
<line x1="246.60" y1="841.50" x2="246.60" y2="835.90" class="tk"/>
<line x1="264.20" y1="847.50" x2="264.20" y2="841.90" class="tk"/>
<line x1="265.10" y1="847.50" x2="265.10" y2="841.90" class="tk"/>
<line x1="266.00" y1="847.50" x2="266.00" y2="841.90" class="tk"/>
<line x1="274.60" y1="860.80" x2="274.60" y2="855.20" class="tk"/>
<line x1="278.80" y1="860.80" x2="278.80" y2="855.20" class="tk"/>
<line x1="290.00" y1="860.80" x2="290.00" y2="855.20" class="tk"/>
<line x1="306.90" y1="860.80" x2="306.90" y2="855.20" class="tk"/>
<line x1="374.60" y1="860.80" x2="374.60" y2="855.20" class="tk"/>
<line x1="377.10" y1="860.80" x2="377.10" y2="855.20" class="tk"/>
<line x1="390.60" y1="860.80" x2="390.60" y2="855.20" class="tk"/>
<path d="M39.25,701.75H40.30V707.40H43.70V711.40H46.80V718.40H47.90V723.80H49.50V727.60H51.40V731.50H62.70V738.00H66.00V740.80H85.00V744.80H95.00V747.40H126.50V750.60H153.10V755.00H154.60V758.10H169.40V761.20H174.60V765.80H205.40V771.90H235.20V778.10H283.80V788.70H316.20V801.90H317.70V817.30H402.90V858.20H412.20" class="cv" />
<line x1="139.20" y1="751.20" x2="139.20" y2="745.60" class="tk"/>
<line x1="140.80" y1="751.20" x2="140.80" y2="745.60" class="tk"/>
<line x1="145.40" y1="751.20" x2="145.40" y2="745.60" class="tk"/>
<line x1="149.10" y1="751.20" x2="149.10" y2="745.60" class="tk"/>
<line x1="163.20" y1="758.70" x2="163.20" y2="753.10" class="tk"/>
<line x1="171.50" y1="761.80" x2="171.50" y2="756.20" class="tk"/>
<line x1="173.10" y1="761.80" x2="173.10" y2="756.20" class="tk"/>
<line x1="185.40" y1="766.40" x2="185.40" y2="760.80" class="tk"/>
<line x1="190.00" y1="766.40" x2="190.00" y2="760.80" class="tk"/>
<line x1="194.60" y1="766.40" x2="194.60" y2="760.80" class="tk"/>
<line x1="203.20" y1="766.40" x2="203.20" y2="760.80" class="tk"/>
<line x1="213.10" y1="772.50" x2="213.10" y2="766.90" class="tk"/>
<line x1="217.70" y1="772.50" x2="217.70" y2="766.90" class="tk"/>
<line x1="223.80" y1="772.50" x2="223.80" y2="766.90" class="tk"/>
<line x1="234.60" y1="772.50" x2="234.60" y2="766.90" class="tk"/>
<line x1="251.50" y1="778.70" x2="251.50" y2="773.10" class="tk"/>
<line x1="254.60" y1="778.70" x2="254.60" y2="773.10" class="tk"/>
<line x1="258.60" y1="778.70" x2="258.60" y2="773.10" class="tk"/>
<line x1="261.70" y1="778.70" x2="261.70" y2="773.10" class="tk"/>
<line x1="272.20" y1="778.70" x2="272.20" y2="773.10" class="tk"/>
<line x1="282.30" y1="778.70" x2="282.30" y2="773.10" class="tk"/>
<line x1="296.20" y1="789.30" x2="296.20" y2="783.70" class="tk"/>
<line x1="302.30" y1="789.30" x2="302.30" y2="783.70" class="tk"/>
<line x1="308.50" y1="789.30" x2="308.50" y2="783.70" class="tk"/>
<line x1="322.90" y1="817.90" x2="322.90" y2="812.30" class="tk"/>
<line x1="331.50" y1="817.90" x2="331.50" y2="812.30" class="tk"/>
<line x1="363.80" y1="817.90" x2="363.80" y2="812.30" class="tk"/>
<line x1="393.10" y1="817.90" x2="393.10" y2="812.30" class="tk"/>
<line x1="411.20" y1="858.80" x2="411.20" y2="853.20" class="tk"/>
<line x1="412.30" y1="858.80" x2="412.30" y2="853.20" class="tk"/>
<text x="488.15" y="708.40" font-size="10.9" textLength="27.70" lengthAdjust="spacingAndGlyphs">5-Year</text>
<text x="427.55" y="718.80" font-size="10.9" textLength="7.80" lengthAdjust="spacingAndGlyphs">N</text>
<text x="452.35" y="718.80" font-size="10.9" textLength="27.70" lengthAdjust="spacingAndGlyphs">Events</text>
<text x="483.45" y="718.80" font-size="10.9" textLength="35.10" lengthAdjust="spacingAndGlyphs">Estimate</text>
<line x1="296.9" y1="725.80" x2="328.3" y2="725.80" class="cv" />
<text x="331.95" y="729.40" font-size="10.9" textLength="37.80" lengthAdjust="spacingAndGlyphs">SB2M&lt;3</text>
<text x="431.70" y="729.40" font-size="10.9" text-anchor="middle" textLength="9.40" lengthAdjust="spacingAndGlyphs">73</text>
<text x="466.60" y="729.40" font-size="10.9" text-anchor="middle" textLength="9.40" lengthAdjust="spacingAndGlyphs">25</text>
<text x="501.70" y="729.40" font-size="10.9" text-anchor="middle" textLength="18.20" lengthAdjust="spacingAndGlyphs">64%</text>
<line x1="296.9" y1="736.10" x2="328.3" y2="736.10" class="cv" stroke-dasharray="3.5 3.1"/>
<text x="331.95" y="739.80" font-size="10.9" textLength="79.20" lengthAdjust="spacingAndGlyphs">SB2M&gt;=3/IgM&gt;=4</text>
<text x="431.70" y="739.80" font-size="10.9" text-anchor="middle" textLength="9.40" lengthAdjust="spacingAndGlyphs">62</text>
<text x="466.60" y="739.80" font-size="10.9" text-anchor="middle" textLength="9.40" lengthAdjust="spacingAndGlyphs">34</text>
<text x="501.70" y="739.80" font-size="10.9" text-anchor="middle" textLength="18.20" lengthAdjust="spacingAndGlyphs">33%</text>
<line x1="296.9" y1="746.60" x2="328.3" y2="746.60" class="cv" stroke-dasharray="5.9 3.1 2 3" stroke-dashoffset="8.5"/>
<text x="331.95" y="750.10" font-size="10.9" textLength="74.00" lengthAdjust="spacingAndGlyphs">SB2M&gt;=3/IgM&lt;4</text>
<text x="431.70" y="750.10" font-size="10.9" text-anchor="middle" textLength="9.40" lengthAdjust="spacingAndGlyphs">39</text>
<text x="466.60" y="750.10" font-size="10.9" text-anchor="middle" textLength="9.40" lengthAdjust="spacingAndGlyphs">28</text>
<text x="501.70" y="750.10" font-size="10.9" text-anchor="middle" textLength="18.20" lengthAdjust="spacingAndGlyphs">12%</text>
<text x="387.35" y="760.50" font-size="10.9" textLength="38.20" lengthAdjust="spacingAndGlyphs">P &lt; .0001</text>
</svg>
</body></html>
